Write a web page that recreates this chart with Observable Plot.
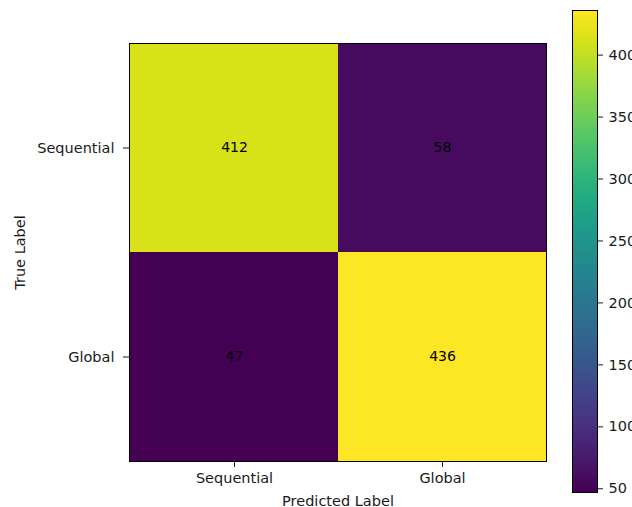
<!DOCTYPE html>
<html>
<head>
<meta charset="utf-8">
<script src="https://cdn.jsdelivr.net/npm/d3@7"></script>
<script src="https://cdn.jsdelivr.net/npm/@observablehq/plot@0.6"></script>
<style>
  html, body { margin: 0; padding: 0; background: white; overflow: hidden; }
  #wrap { position: relative; width: 632px; height: 507px; overflow: hidden; }
  #wrap svg { position: absolute; top: 0; max-width: none; overflow: visible; }
</style>
</head>
<body>
<div id="wrap"></div>
<script>
const classes = ["Sequential", "Global"];
const trueLabels = ["Sequential", "Sequential", "Global", "Global"];
const predLabels = ["Sequential", "Global", "Sequential", "Global"];
const counts = [412, 58, 47, 436];
const colorTicks = [50, 100, 150, 200, 250, 300, 350, 400];

const cells = counts.map((v, i) => ({t: trueLabels[i], p: predLabels[i], v}));
const vmin = d3.min(counts), vmax = d3.max(counts);
const font = "DejaVu Sans, sans-serif";
const fs = 14.5;

const main = Plot.plot({
  width: 560,
  height: 507,
  marginLeft: 129,
  marginRight: 14,
  marginTop: 43,
  marginBottom: 46,
  style: {fontFamily: font, fontSize: fs + "px", color: "#1a1a1a", background: "transparent"},
  x: {domain: classes, padding: 0},
  y: {domain: classes, padding: 0},
  color: {type: "linear", scheme: "viridis", domain: [vmin, vmax]},
  marks: [
    Plot.cell(cells, {x: "p", y: "t", fill: "v"}),
    Plot.text(cells, {x: "p", y: "t", text: d => String(d.v), fill: "black", fontSize: 14}),
    Plot.frame({stroke: "black", strokeWidth: 1}),
    Plot.axisX({fontSize: fs, tickSize: 6, tickPadding: 5, label: "Predicted Label", labelAnchor: "center", labelOffset: 44}),
    Plot.axisY({fontSize: fs, tickSize: 6, tickPadding: 9, label: "True Label", labelAnchor: "center", labelOffset: 115})
  ]
});
main.style.left = "0px";
document.getElementById("wrap").appendChild(main);

const steps = d3.range(vmin, vmax, 1);
const bar = Plot.plot({
  width: 100,
  height: 507,
  marginLeft: 12,
  marginRight: 63,
  marginTop: 10,
  marginBottom: 15,
  style: {fontFamily: font, fontSize: fs + "px", color: "#1a1a1a", background: "transparent"},
  x: {axis: null, domain: [0, 1]},
  y: {domain: [vmin, vmax], axis: null},
  color: {type: "linear", scheme: "viridis", domain: [vmin, vmax]},
  marks: [
    Plot.rect(steps, {x1: 0, x2: 1, y1: d => d, y2: d => Math.min(d + 1.5, vmax), fill: d => d, shapeRendering: "crispEdges"}),
    Plot.frame({stroke: "black", strokeWidth: 1}),
    Plot.axisY({anchor: "right", ticks: colorTicks, fontSize: fs, tickSize: 5, tickPadding: 6, label: null})
  ]
});
bar.style.left = "560px";
document.getElementById("wrap").appendChild(bar);
</script>
</body>
</html>
